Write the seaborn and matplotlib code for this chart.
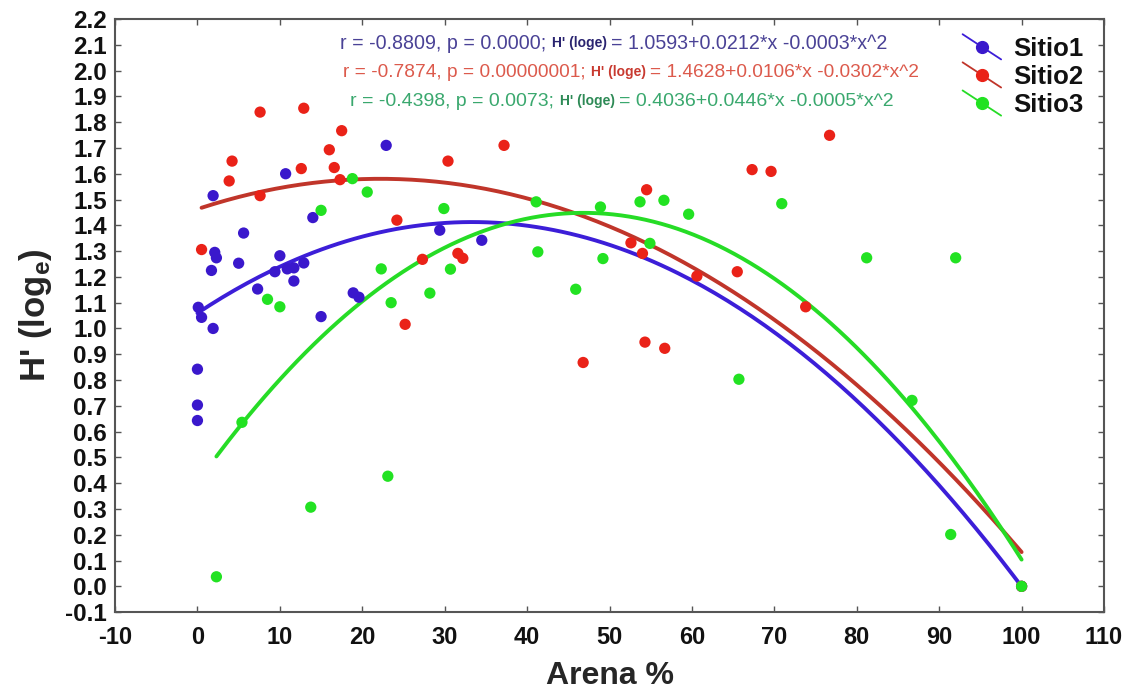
import numpy as np
import pandas as pd
import matplotlib
matplotlib.use("Agg")
import matplotlib.pyplot as plt
from matplotlib.lines import Line2D
from matplotlib.legend_handler import HandlerBase
from matplotlib import font_manager
import seaborn as sns

# ---- data: Arena % vs Shannon diversity H' (log e) per site ----
sitio1_x = [22.9, 10.7, 1.9, 14.0, 5.6, 2.1, 2.3, 5.0, 1.7, 10.0, 9.4, 10.9, 11.7, 12.9,
            11.7, 7.3, 18.9, 19.6, 0.1, 0.5, 1.9, 15.0, 0.0, 0.0, 0.0, 29.4, 34.5, 100.0]
sitio1_y = [1.71, 1.60, 1.515, 1.43, 1.37, 1.295, 1.274, 1.253, 1.225, 1.282, 1.22, 1.231, 1.235, 1.254,
            1.184, 1.153, 1.138, 1.121, 1.082, 1.043, 1.00, 1.046, 0.842, 0.703, 0.643, 1.381, 1.342, 0.0]

sitio2_x = [7.6, 12.9, 17.5, 16.0, 4.2, 12.6, 16.6, 3.85, 17.3, 7.6, 24.2, 0.5, 27.3, 25.2,
            37.2, 30.4, 54.5, 52.6, 54.0, 31.6, 32.2, 54.3, 56.7, 46.8, 60.6, 76.7, 67.3, 69.6,
            65.5, 73.8, 100.0]
sitio2_y = [1.839, 1.854, 1.767, 1.693, 1.649, 1.62, 1.624, 1.572, 1.577, 1.515, 1.42, 1.306, 1.268, 1.016,
            1.71, 1.649, 1.538, 1.332, 1.291, 1.291, 1.272, 0.947, 0.923, 0.868, 1.203, 1.749, 1.616, 1.609,
            1.22, 1.084, 0.0]

sitio3_x = [18.8, 20.6, 15.0, 8.5, 10.0, 22.3, 23.5, 28.2, 5.4, 23.1, 13.75, 2.3, 53.7, 56.6,
            59.6, 41.1, 48.9, 29.9, 54.9, 30.7, 41.3, 49.2, 45.9, 70.9, 81.2, 92.0, 65.7, 86.7,
            91.4, 100.0]
sitio3_y = [1.581, 1.529, 1.458, 1.113, 1.084, 1.231, 1.10, 1.137, 0.636, 0.427, 0.307, 0.037, 1.491, 1.497,
            1.443, 1.491, 1.471, 1.465, 1.33, 1.23, 1.297, 1.271, 1.152, 1.484, 1.274, 1.274, 0.803, 0.721,
            0.201, 0.0]

# quadratic fits H' = a + b*x + c*x^2 (c kept at full precision; the labels show it rounded)
fit_a = [1.0593, 1.4628, 0.4036]
fit_b = [0.0212, 0.0106, 0.0446]
fit_c = [-0.000318, -0.000239, -0.000476]

site_names = ["Sitio1", "Sitio2", "Sitio3"]
point_colors = ["#3a18cc", "#ea2218", "#22e222"]
line_colors = ["#3c1ed8", "#c0352a", "#26dc26"]

stats_text = ["r = -0.8809, p = 0.0000; ",
              "r = -0.7874, p = 0.00000001; ",
              "r = -0.4398, p = 0.0073; "]
model_text = ["= 1.0593+0.0212*x -0.0003*x^2",
              "= 1.4628+0.0106*x -0.0302*x^2",
              "= 0.4036+0.0446*x -0.0005*x^2"]
text_colors = ["#4a4296", "#dc5a4c", "#3aa86e"]
label_colors = ["#2a2470", "#c83a30", "#2e8a56"]
text_sizes = [14.1, 13.8, 14.0]

x_ticks = list(range(-10, 111, 10))
y_ticks = [round(-0.1 + 0.1 * i, 1) for i in range(24)]

frames = []
for name, xs, ys in zip(site_names, [sitio1_x, sitio2_x, sitio3_x], [sitio1_y, sitio2_y, sitio3_y]):
    frames.append(pd.DataFrame({"Arena": xs, "H": ys, "Sitio": name}))
df = pd.concat(frames, ignore_index=True)

# ---- styling ----
sns.set_style("ticks")
installed = {f.name for f in font_manager.fontManager.ttflist}
narrow = "Liberation Sans Narrow" if "Liberation Sans Narrow" in installed else "Liberation Sans"
plt.rcParams["font.family"] = ["Liberation Sans", "DejaVu Sans"]
plt.rcParams["mathtext.fontset"] = "custom"
plt.rcParams["mathtext.rm"] = "Liberation Sans:bold"
plt.rcParams["mathtext.bf"] = "Liberation Sans:bold"
plt.rcParams["mathtext.it"] = "Liberation Sans:bold"

fig = plt.figure(figsize=(11.3, 6.94), dpi=100)
ax = fig.add_axes([0.1018, 0.118, 0.8752, 0.8546])

# fitted curves, each over the range of its own site
for i, (name, lc) in enumerate(zip(site_names, line_colors)):
    sub = df[df["Sitio"] == name]
    xs = np.linspace(sub["Arena"].min(), sub["Arena"].max(), 200)
    curve = pd.DataFrame({"Arena": xs, "H": fit_a[i] + fit_b[i] * xs + fit_c[i] * xs ** 2})
    sns.lineplot(data=curve, x="Arena", y="H", color=lc, lw=2.8, ax=ax, zorder=2)

# observed points
sns.scatterplot(data=df, x="Arena", y="H", hue="Sitio", palette=point_colors,
                s=66, linewidth=0, ax=ax, zorder=3, legend=False)

ax.set_xlim(-10, 110)
ax.set_ylim(-0.1, 2.2)
ax.set_xticks(x_ticks)
ax.set_yticks(y_ticks)
ax.set_xticklabels([str(t) for t in x_ticks], fontsize=17, fontweight="bold",
                   family=[narrow, "DejaVu Sans"])
ax.set_yticklabels([f"{t:.1f}" for t in y_ticks], fontsize=17.5, fontweight="bold")
ax.tick_params(direction="in", length=4, width=1, colors="#555555", top=True, right=True,
               labelcolor="#111111")
ax.tick_params(axis="x", pad=10)
ax.tick_params(axis="y", pad=6)
for sp in ax.spines.values():
    sp.set_visible(True)
    sp.set_color("#555555")
    sp.set_linewidth(1.5)

ax.set_xlabel("Arena %", fontsize=23, fontweight="bold", family=[narrow, "DejaVu Sans"], labelpad=9)
ax.set_ylabel(r"H' (log$_{\mathbf{e}}$)", fontsize=25, fontweight="bold", labelpad=8)

# ---- regression annotations ----
row_y = [0.9595, 0.9106, 0.8617]
row_x = [0.2275, 0.231, 0.238]
for i in range(3):
    t1 = ax.text(row_x[i], row_y[i], stats_text[i], transform=ax.transAxes, fontsize=text_sizes[i],
                 color=text_colors[i], va="center", ha="left")
    t2 = ax.annotate("H' (loge) ", xy=(1, 0.5), xycoords=t1, fontsize=10, fontweight="bold",
                     color=label_colors[i], va="center", ha="left")
    ax.annotate(model_text[i], xy=(1, 0.5), xycoords=t2, fontsize=text_sizes[i],
                color=text_colors[i], va="center", ha="left")


# ---- legend with diagonal line + dot handles ----
class DiagonalHandler(HandlerBase):
    def create_artists(self, legend, orig_handle, xdescent, ydescent, width, height, fontsize, trans):
        x0, x1 = -xdescent, -xdescent + width
        y0, y1 = -ydescent + height * 1.2, -ydescent - height * 0.2
        seg = Line2D([x0, x1], [y0, y1], color=orig_handle.get_color(), lw=1.3, transform=trans)
        dot = Line2D([(x0 + x1) / 2], [(y0 + y1) / 2], marker="o", ms=8.5, ls="none",
                     color=orig_handle.get_markerfacecolor(), transform=trans)
        return [seg, dot]


handles = [Line2D([], [], color=lc, marker="o", markerfacecolor=pc)
           for pc, lc in zip(point_colors, line_colors)]
leg = ax.legend(handles, site_names, handler_map={Line2D: DiagonalHandler()},
                loc="upper left", bbox_to_anchor=(0.857, 0.97), frameon=False,
                borderaxespad=0, borderpad=0, handlelength=1.5, handletextpad=0.47,
                labelspacing=0.16, prop=dict(weight="bold", size=18.5))
for t in leg.get_texts():
    t.set_color("#111111")

fig.savefig("out.png", dpi=100)
